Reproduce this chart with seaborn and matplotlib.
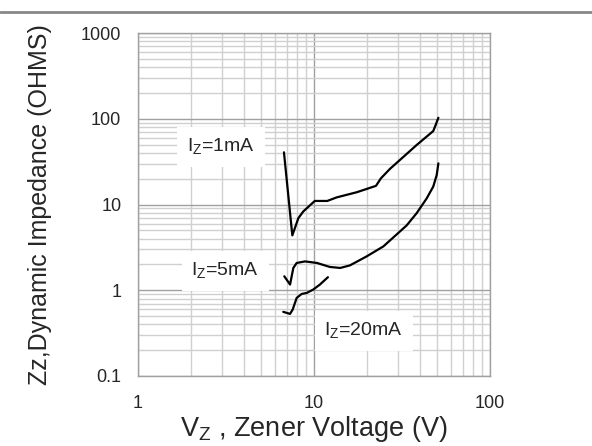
import numpy as np
import pandas as pd
import matplotlib
matplotlib.use("Agg")
import matplotlib.pyplot as plt
from matplotlib.lines import Line2D
import seaborn as sns

sns.set_style("white")
plt.rcParams['font.family'] = ['Liberation Sans', 'DejaVu Sans']

# curves
vz_1ma = [6.75, 7.53, 8.15, 8.69, 10.1, 11.9, 13.45, 17.5, 22.5, 24.0, 27.0, 38.3, 47.6, 49.1, 50.9]
zz_1ma = [40.6, 4.36, 6.93, 8.29, 11.0, 11.0, 12.1, 13.9, 16.5, 20.2, 26.0, 49.4, 71.9, 84.5, 102.7]

vz_5ma = [6.78, 7.31, 7.63, 7.97, 8.89, 10.4, 12.3, 14.1, 16.0, 19.9, 24.8, 33.6, 38.3, 43.7, 47.6, 49.8, 50.9]
zz_5ma = [1.455, 1.165, 1.82, 2.08, 2.17, 2.08, 1.87, 1.82, 1.95, 2.48, 3.25, 5.70, 7.92, 11.8, 16.2, 22.1, 30.2]

vz_20ma = [6.69, 7.31, 7.57, 7.97, 8.51, 9.09, 9.91, 10.8, 12.0]
zz_20ma = [0.560, 0.530, 0.597, 0.814, 0.906, 0.930, 1.02, 1.165, 1.42]

series = ["1mA", "5mA", "20mA"]

df = pd.concat([
    pd.DataFrame({"vz": vz_1ma, "zz": zz_1ma, "iz": "1mA"}),
    pd.DataFrame({"vz": vz_5ma, "zz": zz_5ma, "iz": "5mA"}),
    pd.DataFrame({"vz": vz_20ma, "zz": zz_20ma, "iz": "20mA"}),
], ignore_index=True)

fig = plt.figure(figsize=(5.92, 4.46), dpi=100)
ax = fig.add_axes([138/592, 1 - 376/446, (490-138)/592, (376-33)/446])

ax.set_xscale("log")
ax.set_yscale("log")
ax.set_xlim(1, 100)
ax.set_ylim(0.1, 1000)

ax.grid(True, which="minor", color="#d0d0d0", linewidth=1.0)
ax.grid(True, which="major", color="#a0a0a0", linewidth=1.0)
ax.set_axisbelow(True)

sns.lineplot(data=df, x="vz", y="zz", hue="iz", hue_order=series,
             palette=["black"] * 3, sort=False, estimator=None,
             linewidth=1.6, legend=False, ax=ax)

for s in ax.spines.values():
    s.set_color("#a0a0a0")
    s.set_linewidth(1.0)

ax.set_xticks([1, 10, 100])
ax.set_xticklabels(["1", "10", "100"])
ax.set_yticks([0.1, 1, 10, 100, 1000])
ax.set_yticklabels(["0.1", "1", "10", "100", "1000"])
ax.tick_params(axis="both", which="both", length=0, labelsize=13)
ax.tick_params(axis="x", pad=14)
ax.tick_params(axis="y", pad=12)

ax.set_xlabel("V$_\\mathregular{Z}$ , Zener Voltage (V)", fontsize=19.5, labelpad=1)
ax.set_ylabel("Zz,Dynamic Impedance (OHMS)", fontsize=18, labelpad=21)

# current labels sit on white boxes over the grid
box = dict(facecolor="white", edgecolor="none", pad=7)
ax.text(2.96, 46.6, "I$_\\mathregular{Z}$=1mA", fontsize=14, ha="center", va="center", bbox=box)
ax.text(3.14, 1.69, "I$_\\mathregular{Z}$=5mA", fontsize=14, ha="center", va="center", bbox=box)
ax.text(19.2, 0.334, "I$_\\mathregular{Z}$=20mA", fontsize=14, ha="center", va="center", bbox=box)

fig.add_artist(Line2D([0, 1], [1 - 11.5/446, 1 - 11.5/446], color="#888888", linewidth=2))

fig.savefig("out.png", dpi=100)
